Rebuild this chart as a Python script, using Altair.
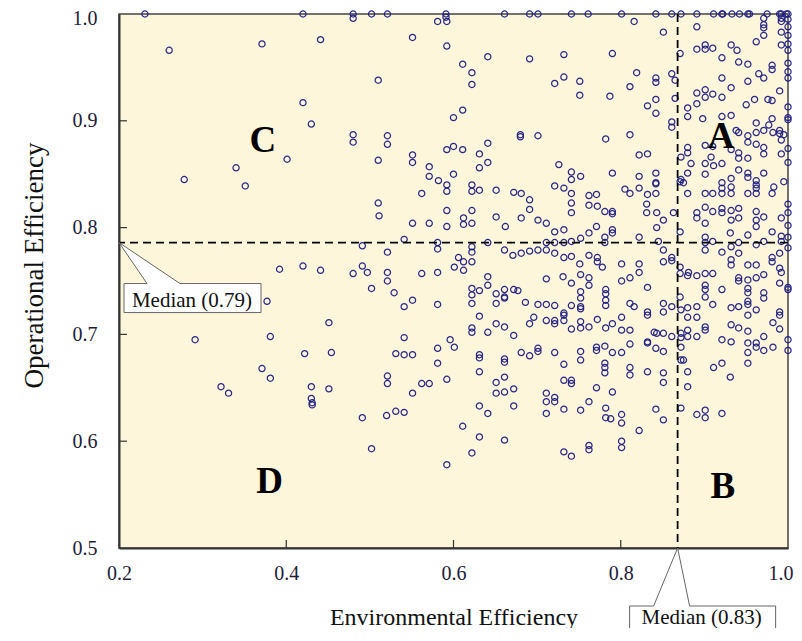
import altair as alt
import pandas as pd

# ---------------- data ----------------
# points on / near the top edge (operational efficiency = 1.0)
top_env = [0.231, 0.420, 0.480, 0.480, 0.502, 0.521, 0.591, 0.591, 0.661, 0.691,
           0.701, 0.741, 0.761, 0.801, 0.842, 0.861, 0.872, 0.891, 0.911, 0.921,
           0.922, 0.933, 0.942, 0.952, 0.954, 0.975, 0.990, 0.992, 0.998, 1.0]
top_op = [1.0, 1.0, 1.0, 0.996, 1.0, 1.0, 1.0, 0.997, 1.0, 1.0,
          1.0, 1.0, 1.0, 1.0, 1.0, 1.0, 1.0, 1.0, 1.0, 1.0,
          1.0, 1.0, 1.0, 1.0, 1.0, 1.0, 1.0, 1.0, 1.0, 1.0]

# upper-left region
ul_env = [0.260, 0.371, 0.441, 0.510, 0.420, 0.430, 0.480, 0.480, 0.521, 0.521,
          0.401, 0.340, 0.510, 0.278, 0.351]
ul_op = [0.966, 0.972, 0.976, 0.938, 0.917, 0.897, 0.887, 0.880, 0.886, 0.878,
         0.864, 0.856, 0.863, 0.845, 0.839]

# middle / lower-left region
ml_env = [0.510, 0.511, 0.491, 0.521, 0.392, 0.420, 0.441, 0.480, 0.491, 0.497,
          0.521, 0.521, 0.502, 0.529, 0.377, 0.451, 0.381, 0.291, 0.422, 0.454,
          0.531, 0.371, 0.381, 0.521, 0.521, 0.322, 0.331, 0.430, 0.451, 0.430,
          0.431, 0.431, 0.491, 0.520, 0.531, 0.502]
ml_op = [0.823, 0.811, 0.783, 0.777, 0.761, 0.764, 0.760, 0.757, 0.764, 0.758,
         0.758, 0.750, 0.743, 0.739, 0.731, 0.711, 0.698, 0.695, 0.682, 0.683,
         0.682, 0.668, 0.659, 0.661, 0.654, 0.651, 0.645, 0.651, 0.649, 0.640,
         0.636, 0.634, 0.622, 0.624, 0.628, 0.593]

# upper-middle region (left of the env. median)
um_env = [0.581, 0.592, 0.551, 0.592, 0.641, 0.691, 0.732, 0.790, 0.816, 0.851,
          0.611, 0.622, 0.622, 0.721, 0.732, 0.751, 0.751, 0.787, 0.811, 0.819,
          0.842, 0.842, 0.861, 0.865, 0.842, 0.832, 0.842, 0.865, 0.861, 0.861,
          0.611, 0.600, 0.680, 0.680, 0.701, 0.782, 0.811, 0.641, 0.592, 0.600,
          0.611, 0.631, 0.641, 0.551, 0.551, 0.571, 0.571, 0.631, 0.600, 0.582,
          0.592, 0.592, 0.622, 0.622, 0.631, 0.562, 0.651, 0.672, 0.681, 0.726,
          0.741, 0.741, 0.752, 0.721, 0.732, 0.741, 0.790, 0.762, 0.771, 0.822,
          0.842, 0.842, 0.842, 0.822, 0.832, 0.805, 0.811, 0.822, 0.832, 0.871,
          0.872, 0.871, 0.842]
um_op = [0.993, 0.993, 0.978, 0.970, 0.960, 0.958, 0.962, 0.963, 0.993, 0.983,
         0.953, 0.945, 0.934, 0.935, 0.941, 0.937, 0.924, 0.923, 0.932, 0.945,
         0.940, 0.936, 0.944, 0.938, 0.920, 0.914, 0.907, 0.921, 0.899, 0.894,
         0.910, 0.903, 0.887, 0.885, 0.886, 0.883, 0.887, 0.879, 0.873, 0.876,
         0.873, 0.869, 0.861, 0.868, 0.861, 0.857, 0.848, 0.856, 0.850, 0.844,
         0.840, 0.834, 0.840, 0.834, 0.835, 0.832, 0.835, 0.833, 0.832, 0.859,
         0.852, 0.845, 0.848, 0.839, 0.837, 0.832, 0.851, 0.830, 0.831, 0.848,
         0.851, 0.842, 0.841, 0.868, 0.869, 0.836, 0.832, 0.837, 0.831, 0.843,
         0.866, 0.963, 0.832]

# upper-right region (quadrant A)
ur_env = [0.891, 0.891, 0.901, 0.901, 0.910, 0.932, 0.939, 0.921, 0.941, 0.952,
          0.962, 0.971, 0.971, 0.971, 0.971, 0.992, 0.992, 0.992, 0.992,
          1.0, 1.0, 1.0, 1.0, 1.0,
          1.0, 1.0, 1.0, 0.981, 0.981, 0.965, 0.971, 0.921, 0.952, 0.932,
          0.891, 0.901, 0.901, 0.910, 0.921, 0.960, 0.976, 0.981, 0.990, 0.950,
          0.880, 0.880, 0.891, 0.898, 0.921, 0.932, 1.0, 1.0, 1.0,
          0.981, 0.962, 0.977, 0.990, 0.938, 0.941, 0.952, 0.962, 0.971,
          0.982, 0.990, 0.995, 0.992, 0.901, 0.910, 0.932, 0.952, 0.962, 0.971, 0.971,
          0.941, 0.941, 0.952, 0.992, 1.0, 0.880, 0.880, 0.884, 0.908, 0.901, 0.911, 0.921, 1.0,
          0.880, 0.901, 0.932, 0.941, 0.952, 0.952, 0.962, 0.971, 0.872, 0.875,
          0.921, 0.921, 0.932, 0.962, 0.962, 0.995, 0.983,
          0.880, 0.901, 0.910, 0.921, 0.932, 0.952, 0.962, 0.981]
ur_op = [0.988, 0.967, 0.971, 0.967, 0.968, 0.971, 0.966, 0.959, 0.955, 0.953,
         0.974, 0.996, 0.990, 0.987, 0.980, 0.996, 0.993, 0.983, 0.971,
         0.995, 0.988, 0.980, 0.972, 0.966,
         0.954, 0.946, 0.940, 0.952, 0.948, 0.944, 0.940, 0.940, 0.937, 0.931,
         0.926, 0.929, 0.922, 0.925, 0.922, 0.920, 0.920, 0.919, 0.928, 0.915,
         0.912, 0.904, 0.916, 0.902, 0.904, 0.905, 0.913, 0.903, 0.901,
         0.902, 0.898, 0.896, 0.891, 0.891, 0.889, 0.886, 0.889, 0.891,
         0.889, 0.888, 0.887, 0.882, 0.877, 0.876, 0.873, 0.880, 0.878, 0.875, 0.869,
         0.870, 0.865, 0.865, 0.869, 0.874, 0.875, 0.870, 0.860, 0.866, 0.860, 0.858, 0.860, 0.861,
         0.851, 0.850, 0.846, 0.854, 0.851, 0.847, 0.844, 0.851, 0.845, 0.842,
         0.842, 0.837, 0.838, 0.840, 0.837, 0.843, 0.838,
         0.832, 0.832, 0.832, 0.832, 0.832, 0.832, 0.832, 0.832]

# central band, row by row (top to bottom)
band1_env = [0.691, 0.691, 0.741, 0.741, 0.762, 0.772, 0.781, 0.790, 0.790, 0.831,
             0.831, 0.843, 0.851, 0.863, 0.891, 0.891, 0.901, 0.901, 0.910, 0.921,
             0.921, 0.932, 0.932, 0.941, 0.941, 0.962, 0.962, 0.971, 0.992, 1.0,
             1.0, 1.0, 0.592, 0.622, 0.612, 0.612, 0.622, 0.681, 0.701, 0.711,
             0.651, 0.551, 0.571, 0.592, 0.662]
band1_op = [0.826, 0.817, 0.823, 0.814, 0.821, 0.820, 0.815, 0.815, 0.813, 0.822,
            0.814, 0.814, 0.807, 0.814, 0.814, 0.809, 0.819, 0.804, 0.815, 0.818,
            0.814, 0.816, 0.807, 0.818, 0.809, 0.815, 0.807, 0.810, 0.809, 0.822,
            0.814, 0.802, 0.816, 0.816, 0.809, 0.803, 0.804, 0.809, 0.807, 0.804,
            0.810, 0.804, 0.804, 0.801, 0.801]

band2_env = [0.721, 0.732, 0.762, 0.771, 0.781, 0.790, 0.790, 0.822, 0.843, 0.871,
             0.901, 0.931, 0.952, 0.981, 0.992, 1.0, 0.962, 0.541, 0.581, 0.581,
             0.622, 0.622, 0.641, 0.711, 0.721, 0.732, 0.741, 0.752, 0.781, 0.845,
             0.901, 0.910, 0.941, 0.971, 0.992]
band2_op = [0.796, 0.798, 0.795, 0.801, 0.791, 0.798, 0.795, 0.791, 0.800, 0.796,
            0.791, 0.795, 0.793, 0.796, 0.792, 0.791, 0.801, 0.789, 0.786, 0.780,
            0.782, 0.777, 0.786, 0.786, 0.786, 0.786, 0.787, 0.790, 0.786, 0.787,
            0.786, 0.787, 0.786, 0.787, 0.787]

band3_env = [0.661, 0.671, 0.681, 0.691, 0.701, 0.711, 0.721, 0.732, 0.741, 0.751,
             0.762, 0.772, 0.772, 0.778, 0.801, 0.822, 0.822, 0.851, 0.851, 0.861,
             0.861, 0.871, 0.881, 0.901, 0.921, 0.932, 0.932, 0.932, 0.941, 0.962,
             0.981, 0.981, 0.990, 0.990, 1.0, 0.606, 0.601, 0.612, 0.612, 0.622,
             0.952, 0.962, 0.971, 0.992]
band3_op = [0.779, 0.774, 0.776, 0.778, 0.779, 0.779, 0.776, 0.772, 0.773, 0.766,
            0.774, 0.772, 0.768, 0.763, 0.766, 0.766, 0.758, 0.779, 0.768, 0.772,
            0.769, 0.763, 0.758, 0.779, 0.777, 0.782, 0.770, 0.765, 0.776, 0.784,
            0.772, 0.768, 0.776, 0.762, 0.781, 0.772, 0.763, 0.768, 0.760, 0.768,
            0.765, 0.765, 0.756, 0.758]

band4_env = [0.562, 0.581, 0.641, 0.641, 0.622, 0.622, 0.631, 0.651, 0.661, 0.661,
             0.672, 0.677, 0.711, 0.731, 0.741, 0.752, 0.762, 0.762, 0.752, 0.782,
             0.782, 0.801, 0.811, 0.832, 0.871, 0.871, 0.880, 0.891, 0.901, 0.901,
             0.901, 0.901, 0.910, 0.921, 0.941, 0.941, 0.952, 0.952, 0.952, 0.962,
             0.971, 0.990, 1.0, 1.0]
band4_op = [0.757, 0.758, 0.754, 0.746, 0.743, 0.737, 0.741, 0.738, 0.742, 0.735,
            0.742, 0.741, 0.752, 0.754, 0.748, 0.756, 0.753, 0.746, 0.740, 0.742,
            0.738, 0.750, 0.753, 0.744, 0.757, 0.735, 0.755, 0.755, 0.757, 0.746,
            0.742, 0.735, 0.757, 0.742, 0.753, 0.750, 0.751, 0.743, 0.739, 0.753,
            0.739, 0.748, 0.744, 0.742]

band5_env = [0.541, 0.551, 0.581, 0.622, 0.651, 0.661, 0.686, 0.701, 0.711, 0.721,
             0.732, 0.732, 0.741, 0.752, 0.752, 0.752, 0.782, 0.782, 0.811, 0.816,
             0.832, 0.832, 0.851, 0.851, 0.861, 0.872, 0.880, 0.891, 0.910, 0.932,
             0.941, 0.952, 0.952, 0.962, 0.971, 0.990, 0.990]
band5_op = [0.726, 0.732, 0.728, 0.729, 0.729, 0.734, 0.730, 0.728, 0.728, 0.727,
            0.720, 0.718, 0.727, 0.734, 0.726, 0.724, 0.732, 0.727, 0.729, 0.726,
            0.721, 0.718, 0.729, 0.721, 0.726, 0.723, 0.725, 0.726, 0.728, 0.725,
            0.726, 0.731, 0.728, 0.723, 0.734, 0.721, 0.718]

band6_env = [0.631, 0.696, 0.691, 0.711, 0.721, 0.721, 0.732, 0.752, 0.752, 0.741,
             0.762, 0.772, 0.782, 0.790, 0.801, 0.801, 0.811, 0.832, 0.840, 0.851,
             0.880, 0.891, 0.901, 0.901, 0.932, 0.941, 0.952, 0.952, 0.982, 0.990,
             0.971, 0.622, 0.622, 0.641, 0.651, 0.661, 0.672, 0.596, 0.601, 0.581]
band6_op = [0.717, 0.716, 0.710, 0.713, 0.713, 0.710, 0.713, 0.712, 0.706, 0.705,
            0.707, 0.714, 0.706, 0.710, 0.716, 0.704, 0.704, 0.693, 0.702, 0.701,
            0.716, 0.716, 0.707, 0.704, 0.709, 0.706, 0.718, 0.703, 0.711, 0.705,
            0.698, 0.706, 0.702, 0.702, 0.710, 0.707, 0.699, 0.695, 0.688, 0.687]

band7_env = [0.541, 0.541, 0.551, 0.581, 0.631, 0.631, 0.661, 0.661, 0.681, 0.691,
             0.701, 0.701, 0.721, 0.732, 0.752, 0.771, 0.771, 0.781, 0.781, 0.781,
             0.790, 0.801, 0.811, 0.832, 0.843, 0.842, 0.851, 0.861, 0.872, 0.872,
             0.872, 0.872, 0.880, 0.880, 0.891, 0.921, 0.932, 0.952, 0.962, 0.962,
             0.971, 0.982, 1.0, 1.0, 0.952, 0.952, 0.911, 0.921, 0.931, 0.880, 0.875]
band7_op = [0.697, 0.681, 0.681, 0.673, 0.681, 0.678, 0.677, 0.674, 0.683, 0.680,
            0.687, 0.684, 0.683, 0.672, 0.684, 0.688, 0.685, 0.689, 0.673, 0.669,
            0.683, 0.683, 0.691, 0.692, 0.701, 0.687, 0.684, 0.698, 0.701, 0.697,
            0.688, 0.676, 0.704, 0.698, 0.698, 0.695, 0.693, 0.692, 0.692, 0.688,
            0.685, 0.688, 0.695, 0.685, 0.683, 0.673, 0.669, 0.673, 0.660, 0.665, 0.676]

band8_env = [0.562, 0.571, 0.592, 0.651, 0.661, 0.661, 0.672, 0.651, 0.711, 0.721,
             0.732, 0.741, 0.741, 0.752, 0.771, 0.781, 0.790, 0.811, 0.811, 0.832,
             0.851, 0.851, 0.880, 0.551, 0.631]
band8_op = [0.654, 0.654, 0.658, 0.655, 0.660, 0.646, 0.649, 0.645, 0.645, 0.641,
            0.657, 0.657, 0.654, 0.676, 0.650, 0.664, 0.646, 0.669, 0.662, 0.665,
            0.664, 0.655, 0.651, 0.645, 0.665]

# lowest points
low_env = [0.541, 0.631, 0.641, 0.672, 0.711, 0.721, 0.711, 0.732, 0.752, 0.762,
           0.782, 0.782, 0.788, 0.801, 0.801, 0.842, 0.851, 0.872, 0.891, 0.901,
           0.901, 0.921, 0.611, 0.631, 0.661, 0.622, 0.592, 0.732, 0.741, 0.762,
           0.762, 0.801, 0.801, 0.822]
low_op = [0.627, 0.633, 0.626, 0.633, 0.637, 0.637, 0.626, 0.630, 0.629, 0.637,
          0.631, 0.622, 0.621, 0.625, 0.617, 0.630, 0.620, 0.631, 0.625, 0.629,
          0.622, 0.626, 0.614, 0.604, 0.601, 0.589, 0.578, 0.590, 0.586, 0.596,
          0.592, 0.600, 0.594, 0.610]

# medians (line position and label text)
median_env_pos = 0.868
median_op_pos = 0.786
median_env_label = "Median (0.83)"
median_op_label = "Median (0.79)"

# quadrant labels
quad_labels = ["A", "B", "C", "D"]
quad_env = [0.920, 0.922, 0.372, 0.380]
quad_op = [0.8745, 0.547, 0.871, 0.5515]

# axes
x_ticks = [0.2, 0.4, 0.6, 0.8, 1.0]
y_ticks = [0.5, 0.6, 0.7, 0.8, 0.9, 1.0]
x_inner_ticks = [0.4, 0.6, 0.8]
y_inner_ticks = [0.6, 0.7, 0.8, 0.9]

# ---------------- chart ----------------
W, H = 669, 534
SERIF = "Liberation Serif"

groups = [(top_env, top_op), (ul_env, ul_op), (ml_env, ml_op), (um_env, um_op),
          (ur_env, ur_op), (band1_env, band1_op), (band2_env, band2_op),
          (band3_env, band3_op), (band4_env, band4_op), (band5_env, band5_op),
          (band6_env, band6_op), (band7_env, band7_op), (band8_env, band8_op),
          (low_env, low_op)]
df = pd.concat([pd.DataFrame({"env": e, "op": o}) for e, o in groups], ignore_index=True)

x_scale = alt.Scale(domain=[0.2, 1.0], nice=False, zero=False)
y_scale = alt.Scale(domain=[0.5, 1.0], nice=False, zero=False)

x_axis = alt.Axis(values=x_ticks, format=".1f", title="Environmental Efficiency",
                  grid=False, ticks=False, tickSize=0, domainColor="#333333", domainWidth=2,
                  labelFont=SERIF, labelFontSize=20, labelColor="#1c1c3a", labelPadding=15,
                  labelFlush=False, labelOverlap=False,
                  labelAlign=alt.ExprRef(expr="datum.value >= 1 ? 'right' : 'center'"),
                  labelOffset=alt.ExprRef(expr="datum.value >= 1 ? 5 : 0"),
                  titleFont=SERIF, titleFontSize=24, titleFontWeight="normal", titleColor="#111111",
                  titleY=76, titleBaseline="alphabetic")
y_axis = alt.Axis(values=y_ticks, format=".1f", title="Operational Efficiency",
                  grid=False, ticks=False, tickSize=0, domainColor="#333333", domainWidth=2,
                  labelFont=SERIF, labelFontSize=20, labelColor="#1c1c3a", labelPadding=22,
                  labelFlush=False, labelOverlap=False,
                  labelOffset=alt.ExprRef(expr="datum.value >= 1 ? 4 : 0"),
                  titleFont=SERIF, titleFontSize=27, titleFontWeight="normal", titleColor="#111111",
                  titleX=-85, titleY=251, titleBaseline="middle")

points = alt.Chart(df).mark_point(
    shape="circle", filled=False, color="#1f1f85", size=38, strokeWidth=1.25, opacity=0.95
).encode(
    x=alt.X("env:Q", scale=x_scale, axis=x_axis),
    y=alt.Y("op:Q", scale=y_scale, axis=y_axis),
)

vrule = alt.Chart(pd.DataFrame({"env": [median_env_pos]})).mark_rule(
    color="black", strokeWidth=1.8, strokeDash=[8, 5]
).encode(x="env:Q")
hrule = alt.Chart(pd.DataFrame({"op": [median_op_pos]})).mark_rule(
    color="black", strokeWidth=1.8, strokeDash=[8, 5]
).encode(y="op:Q")

xtick = alt.Chart(pd.DataFrame({"env": x_inner_ticks})).mark_rule(
    color="#333333", strokeWidth=1.2
).encode(x="env:Q", y=alt.value(H), y2=alt.value(H - 8))
ytick = alt.Chart(pd.DataFrame({"op": y_inner_ticks})).mark_rule(
    color="#333333", strokeWidth=1.2
).encode(y="op:Q", x=alt.value(0), x2=alt.value(8))

quads = alt.Chart(pd.DataFrame({"env": quad_env, "op": quad_op, "q": quad_labels})).mark_text(
    font=SERIF, fontWeight="bold", fontSize=37, align="center", baseline="alphabetic", color="black"
).encode(x="env:Q", y="op:Q", text="q:N")

# callout boxes (speech-bubble shapes anchored at the medians; path units = pixels with size=4)
path_op = "M0,0 L28,41 L5,41 L5,70 L142,70 L142,41 L61,41 Z"
path_env = "M0,0 L-24,58 L-48,58 L-48,104 L98,104 L98,58 L12,58 Z"

callout_op = alt.Chart(pd.DataFrame({"env": [0.2], "op": [median_op_pos]})).mark_point(
    shape=path_op, size=4, filled=True, fill="white", stroke="#666666", strokeWidth=1, opacity=1
).encode(x="env:Q", y="op:Q")
callout_env = alt.Chart(pd.DataFrame({"env": [median_env_pos], "op": [0.5]})).mark_point(
    shape=path_env, size=4, filled=True, fill="white", stroke="#666666", strokeWidth=1, opacity=1
).encode(x="env:Q", y="op:Q")

text_op = alt.Chart(pd.DataFrame({"env": [0.2], "op": [median_op_pos], "t": [median_op_label]})).mark_text(
    font=SERIF, fontSize=21, align="center", baseline="alphabetic", dx=73, dy=64, color="#111111"
).encode(x="env:Q", y="op:Q", text="t:N")
text_env = alt.Chart(pd.DataFrame({"env": [median_env_pos], "op": [0.5], "t": [median_env_label]})).mark_text(
    font=SERIF, fontSize=21, align="center", baseline="alphabetic", dx=24, dy=76, color="#111111"
).encode(x="env:Q", y="op:Q", text="t:N")

chart = alt.layer(
    points, vrule, hrule, xtick, ytick, quads, callout_op, callout_env, text_op, text_env
).properties(
    width=W, height=H,
    padding={"left": 111, "top": 6, "right": 6, "bottom": 80},
    autosize=alt.AutoSizeParams(type="none"),
).configure_view(
    fill="#fdf6da", stroke="#444444", strokeWidth=1.5
)

chart.save("out.html", embed_options={"renderer": "svg", "actions": False})
